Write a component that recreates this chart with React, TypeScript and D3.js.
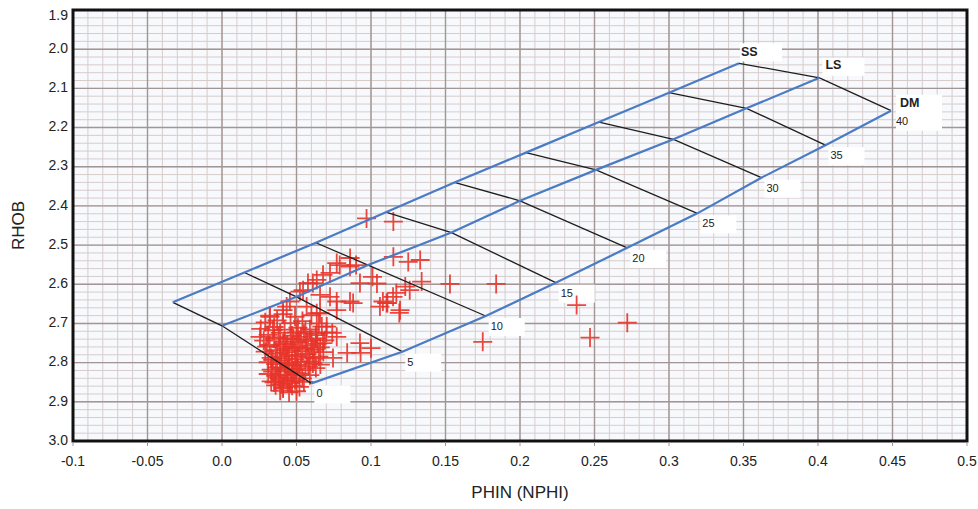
import React from "react";
import * as d3 from "d3";

const W = 978;
const H = 509;

// Porosity steps (p.u.) along each lithology line
const porosity = [0, 5, 10, 15, 20, 25, 30, 35, 40];

const ssPhin = [-0.033, 0.015, 0.063, 0.110, 0.156, 0.204, 0.253, 0.300, 0.347];
const ssRhob = [2.646, 2.570, 2.494, 2.416, 2.340, 2.264, 2.186, 2.111, 2.036];
const lsPhin = [0.000, 0.050, 0.098, 0.154, 0.200, 0.251, 0.303, 0.352, 0.401];
const lsRhob = [2.706, 2.632, 2.551, 2.468, 2.387, 2.308, 2.230, 2.151, 2.073];
const dmPhin = [0.060, 0.121, 0.177, 0.224, 0.272, 0.319, 0.362, 0.405, 0.449];
const dmRhob = [2.853, 2.772, 2.681, 2.596, 2.507, 2.419, 2.328, 2.245, 2.157];

const lithologyNames = ["SS", "LS", "DM"];

const xTicks = [-0.1, -0.05, 0.0, 0.05, 0.1, 0.15, 0.2, 0.25, 0.3, 0.35, 0.4, 0.45, 0.5];
const xTickLabels = ["-0.1", "-0.05", "0.0", "0.05", "0.1", "0.15", "0.2", "0.25", "0.3", "0.35", "0.4", "0.45", "0.5"];
const yTicks = [1.9, 2.0, 2.1, 2.2, 2.3, 2.4, 2.5, 2.6, 2.7, 2.8, 2.9, 3.0];
const yTickLabels = ["1.9", "2.0", "2.1", "2.2", "2.3", "2.4", "2.5", "2.6", "2.7", "2.8", "2.9", "3.0"];

// Sample points [PHIN, RHOB]
const samples: [number, number][] = [
  // scattered points
  [0.097, 2.432], [0.115, 2.440], [0.115, 2.530], [0.125, 2.543], [0.134, 2.593],
  [0.153, 2.599], [0.184, 2.599], [0.238, 2.653], [0.272, 2.698], [0.175, 2.747],
  [0.247, 2.736], [0.101, 2.581], [0.090, 2.551], [0.079, 2.551], [0.111, 2.648],
  [0.119, 2.673], [0.126, 2.615], [0.106, 2.657], [0.088, 2.648], [0.077, 2.644],
  [0.074, 2.724], [0.084, 2.775], [0.093, 2.775], [0.100, 2.763], [0.117, 2.622],
  [0.123, 2.606], [0.104, 2.598], [0.108, 2.644], [0.133, 2.538], [0.077, 2.546],
  [0.086, 2.533], [0.0725, 2.571], [0.0636, 2.589], [0.0577, 2.597], [0.0523, 2.619],
  [0.0456, 2.644], [0.041, 2.666], [0.0658, 2.627], [0.0725, 2.632], [0.077, 2.666],
  [0.0859, 2.644], [0.0926, 2.597], [0.0636, 2.674], [0.0568, 2.657], [0.0322, 2.683],
  [0.0859, 2.555], [0.0745, 2.788], [0.1148, 2.632], [0.0678, 2.576], [0.061, 2.597],
  [0.0544, 2.615], [0.0434, 2.657], [0.0342, 2.717], [0.0255, 2.734], [0.030, 2.759],
  [0.0658, 2.674], [0.0703, 2.708], [0.0636, 2.725], [0.077, 2.734], [0.0678, 2.750],
  [0.0926, 2.750], [0.1105, 2.648], [0.1195, 2.666],
  // dense cluster
  [0.032, 2.680], [0.041, 2.676], [0.049, 2.683], [0.060, 2.679],
  [0.029, 2.697], [0.037, 2.692], [0.046, 2.699], [0.054, 2.694], [0.065, 2.700],
  [0.026, 2.714], [0.035, 2.709], [0.042, 2.716], [0.051, 2.711], [0.059, 2.715], [0.067, 2.708],
  [0.031, 2.729], [0.039, 2.724], [0.047, 2.731], [0.055, 2.726], [0.063, 2.730], [0.070, 2.723],
  [0.028, 2.744], [0.035, 2.739], [0.042, 2.746], [0.048, 2.740], [0.057, 2.745], [0.063, 2.738], [0.069, 2.743],
  [0.032, 2.755], [0.039, 2.760], [0.044, 2.754], [0.051, 2.759], [0.060, 2.756], [0.066, 2.761],
  [0.029, 2.772], [0.036, 2.768], [0.042, 2.774], [0.047, 2.769], [0.054, 2.771], [0.062, 2.767], [0.068, 2.773],
  [0.033, 2.788], [0.039, 2.784], [0.044, 2.789], [0.050, 2.783], [0.058, 2.787], [0.065, 2.785],
  [0.031, 2.799], [0.036, 2.804], [0.042, 2.800], [0.047, 2.803], [0.053, 2.798], [0.061, 2.802], [0.066, 2.805],
  [0.033, 2.818], [0.039, 2.813], [0.044, 2.817], [0.050, 2.815], [0.056, 2.819], [0.063, 2.814],
  [0.031, 2.829], [0.036, 2.834], [0.042, 2.830], [0.047, 2.833], [0.052, 2.828], [0.059, 2.832],
  [0.033, 2.848], [0.039, 2.843], [0.044, 2.847], [0.049, 2.845], [0.055, 2.849],
  [0.036, 2.858], [0.041, 2.863], [0.047, 2.859], [0.052, 2.862],
  [0.039, 2.872], [0.045, 2.876], [0.050, 2.873],
  // cluster core
  [0.038, 2.735], [0.041, 2.751], [0.037, 2.777], [0.040, 2.795], [0.045, 2.808],
  [0.043, 2.822], [0.038, 2.838], [0.046, 2.852], [0.041, 2.866], [0.035, 2.850],
  [0.034, 2.823], [0.034, 2.793], [0.045, 2.780], [0.049, 2.762], [0.046, 2.738],
  [0.052, 2.749], [0.056, 2.765], [0.049, 2.792], [0.048, 2.825], [0.054, 2.840],
  [0.058, 2.810], [0.057, 2.778], [0.060, 2.742], [0.064, 2.752], [0.062, 2.790],
  [0.044, 2.839], [0.040, 2.855], [0.037, 2.812], [0.043, 2.765], [0.050, 2.723],
  [0.053, 2.734], [0.056, 2.720], [0.061, 2.761], [0.059, 2.797], [0.051, 2.806],
];

const PL = 73, PR = 967, PT = 10, PB = 441;

export default function App() {
  const x = d3.scaleLinear().domain([-0.1, 0.5]).range([PL, PR]);
  const y = d3.scaleLinear().domain([1.9, 3.0]).range([PT, PB]);

  const xMinor = d3.range(0, 61).map((i) => -0.1 + i * 0.01);
  const yMinor = d3.range(0, 56).map((i) => 1.9 + i * 0.02);

  const line = d3
    .line<[number, number]>()
    .x((d) => x(d[0]))
    .y((d) => y(d[1]));

  const lithos = [
    { name: lithologyNames[0], pts: ssPhin.map((p, i) => [p, ssRhob[i]] as [number, number]) },
    { name: lithologyNames[1], pts: lsPhin.map((p, i) => [p, lsRhob[i]] as [number, number]) },
    { name: lithologyNames[2], pts: dmPhin.map((p, i) => [p, dmRhob[i]] as [number, number]) },
  ];

  const connectors = porosity.map((_, i) => lithos.map((l) => l.pts[i]));

  const crossSize = 9.5;
  const font = "'Liberation Sans', Arial, sans-serif";

  const last = porosity.length - 1;
  const ssEnd = lithos[0].pts[last];
  const lsEnd = lithos[1].pts[last];
  const dmEnd = lithos[2].pts[last];

  return (
    <svg
      width={W}
      height={H}
      style={{ position: "absolute", left: 0, top: 0, display: "block", background: "#fff" }}
      fontFamily={font}
    >
      <rect x={PL} y={PT} width={PR - PL} height={PB - PT} fill="#f7f9fc" />
      {/* minor grid */}
      {xMinor.map((v, i) => (
        <line key={"xm" + i} x1={x(v)} x2={x(v)} y1={PT} y2={PB} stroke="#d6cccc" strokeWidth={1} />
      ))}
      {yMinor.map((v, i) => (
        <line key={"ym" + i} x1={PL} x2={PR} y1={y(v)} y2={y(v)} stroke="#d6cccc" strokeWidth={1} />
      ))}
      {/* major grid */}
      {xTicks.map((v, i) => (
        <line key={"xM" + i} x1={x(v)} x2={x(v)} y1={PT} y2={PB} stroke="#a39593" strokeWidth={1.4} />
      ))}
      {yTicks.map((v, i) => (
        <line key={"yM" + i} x1={PL} x2={PR} y1={y(v)} y2={y(v)} stroke="#a39593" strokeWidth={1.4} />
      ))}

      {/* label backgrounds */}
      <rect x={x(ssEnd[0]) + 1} y={y(ssEnd[1]) - 20} width={42} height={18} fill="#fff" />
      <rect x={x(lsEnd[0]) + 3} y={y(lsEnd[1]) - 20} width={42} height={18} fill="#fff" />
      <rect x={x(dmEnd[0]) + 5} y={y(dmEnd[1]) - 16} width={46} height={36} fill="#fff" />
      {lithos[2].pts.slice(0, last).map((p, i) => (
        <rect key={"lb" + i} x={x(p[0]) + 3} y={y(p[1]) + 2} width={36} height={18} fill="#fff" />
      ))}

      {/* scatter */}
      <g stroke="#e8342a" strokeWidth={1.8} strokeOpacity={0.9}>
        {samples.map((s, i) => {
          const cx = x(s[0]);
          const cy = y(s[1]);
          return (
            <path
              key={"s" + i}
              d={`M${cx - crossSize},${cy}H${cx + crossSize}M${cx},${cy - crossSize}V${cy + crossSize}`}
              fill="none"
            />
          );
        })}
      </g>

      {/* connectors */}
      {connectors.map((c, i) => (
        <path key={"c" + i} d={line(c) || ""} fill="none" stroke="#1e1e1e" strokeWidth={1.3} />
      ))}
      {/* lithology lines */}
      {lithos.map((l) => (
        <path key={l.name} d={line(l.pts) || ""} fill="none" stroke="#4a7bc4" strokeWidth={2.2} />
      ))}

      {/* lithology labels */}
      <text x={x(ssEnd[0]) + 2} y={y(ssEnd[1]) - 11} fontSize={12.5} fontWeight="bold" fill="#222" dominantBaseline="middle">
        {lithos[0].name}
      </text>
      <text x={x(lsEnd[0]) + 6} y={y(lsEnd[1]) - 12} fontSize={12.5} fontWeight="bold" fill="#222" dominantBaseline="middle">
        {lithos[1].name}
      </text>
      <text x={x(dmEnd[0]) + 9} y={y(dmEnd[1]) - 7} fontSize={12.5} fontWeight="bold" fill="#222" dominantBaseline="middle">
        {lithos[2].name}
      </text>
      {lithos[2].pts.map((p, i) => (
        <text
          key={"pl" + i}
          x={x(p[0]) + 5}
          y={y(p[1]) + 11}
          fontSize={11}
          fill="#222"
          dominantBaseline="middle"
        >
          {porosity[i]}
        </text>
      ))}

      {/* frame */}
      <rect x={PL} y={PT} width={PR - PL} height={PB - PT} fill="none" stroke="#111" strokeWidth={3} />

      {/* x ticks */}
      {xTicks.map((v, i) => (
        <g key={"xt" + i}>
          <line x1={x(v)} x2={x(v)} y1={PB + 1} y2={PB + 5} stroke="#999" strokeWidth={1} />
          <text x={x(v)} y={PB + 21} fontSize={14} fill="#222" textAnchor="middle" dominantBaseline="middle">
            {xTickLabels[i]}
          </text>
        </g>
      ))}
      {/* y ticks */}
      {yTicks.map((v, i) => (
        <text
          key={"yt" + i}
          x={PL - 5}
          y={Math.max(y(v), PT + 6)}
          fontSize={14}
          fill="#222"
          textAnchor="end"
          dominantBaseline="middle"
        >
          {yTickLabels[i]}
        </text>
      ))}

      {/* axis titles */}
      <text
        x={520}
        y={494}
        fontSize={17}
        fill="#222"
        textAnchor="middle"
        dominantBaseline="middle"
      >
        PHIN (NPHI)
      </text>
      <text
        transform={`translate(20,${(PT + PB) / 2}) rotate(-90)`}
        fontSize={17}
        fill="#222"
        textAnchor="middle"
        dominantBaseline="middle"
      >
        RHOB
      </text>
    </svg>
  );
}
